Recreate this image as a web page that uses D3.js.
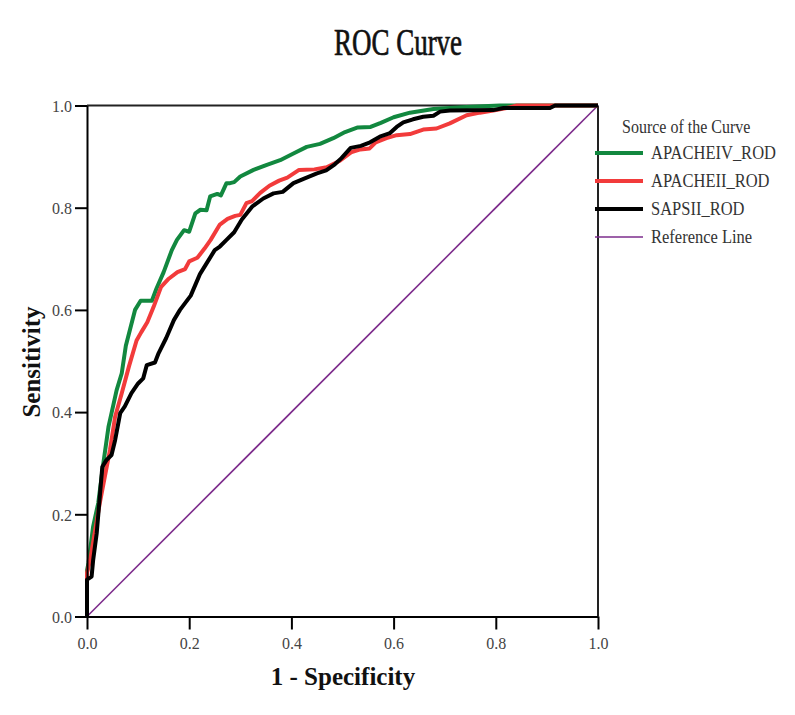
<!DOCTYPE html>
<html lang="en">
<head>
  <meta charset="UTF-8">
  <title>ROC Curve</title>
  <script src="https://d3js.org/d3.v7.min.js"></script>
  <style>
    body { margin: 0; background: #fff; }
    text { font-family: "Liberation Serif", "Times New Roman", serif; }
    .axis text { font-size: 16px; fill: #444; }
    .axis line, .axis path { stroke: #000; stroke-width: 2px; }
  </style>
</head>
<body>
  <svg width="795" height="715"></svg>
  <script>
  const margin = { top: 105.5, left: 87 };
  const width = 511;
  const height = 511;

  // APACHEIV_ROD
  const apache4X = [0, 0, 0.003, 0.012, 0.022, 0.032, 0.042, 0.048, 0.058, 0.068, 0.076, 0.094, 0.105, 0.127, 0.136, 0.15, 0.166, 0.176, 0.19, 0.2, 0.212, 0.222, 0.234, 0.241, 0.255, 0.262, 0.273, 0.28, 0.288, 0.30, 0.326, 0.352, 0.378, 0.404, 0.43, 0.456, 0.482, 0.505, 0.53, 0.555, 0.575, 0.60, 0.632, 0.678, 0.743, 0.808, 0.9, 1.0];
  const apache4Y = [0, 0.09, 0.105, 0.176, 0.222, 0.30, 0.371, 0.398, 0.443, 0.476, 0.53, 0.60, 0.618, 0.618, 0.642, 0.674, 0.717, 0.737, 0.756, 0.753, 0.789, 0.796, 0.795, 0.822, 0.827, 0.824, 0.848, 0.848, 0.85, 0.861, 0.874, 0.884, 0.893, 0.906, 0.919, 0.925, 0.936, 0.948, 0.957, 0.958, 0.966, 0.977, 0.986, 0.993, 0.997, 1.0, 1.0, 1.0];

  // APACHEII_ROD
  const apache2X = [0, 0, 0.006, 0.016, 0.025, 0.035, 0.045, 0.055, 0.068, 0.082, 0.097, 0.106, 0.118, 0.13, 0.145, 0.16, 0.177, 0.192, 0.2, 0.216, 0.23, 0.242, 0.26, 0.275, 0.29, 0.30, 0.312, 0.323, 0.339, 0.357, 0.376, 0.392, 0.415, 0.445, 0.469, 0.495, 0.518, 0.535, 0.553, 0.565, 0.586, 0.606, 0.632, 0.658, 0.684, 0.71, 0.743, 0.769, 0.795, 0.821, 0.841, 1.0];
  const apache2Y = [0, 0.085, 0.11, 0.169, 0.222, 0.274, 0.326, 0.391, 0.437, 0.489, 0.54, 0.556, 0.576, 0.605, 0.645, 0.661, 0.674, 0.68, 0.695, 0.702, 0.72, 0.737, 0.767, 0.778, 0.784, 0.786, 0.809, 0.813, 0.829, 0.843, 0.853, 0.859, 0.874, 0.875, 0.879, 0.892, 0.909, 0.914, 0.916, 0.928, 0.936, 0.942, 0.944, 0.953, 0.955, 0.965, 0.981, 0.986, 0.99, 0.995, 1.0, 1.0];

  // SAPSII_ROD
  const sapsX = [0, 0, 0.009, 0.012, 0.019, 0.025, 0.03, 0.038, 0.048, 0.055, 0.065, 0.074, 0.087, 0.1, 0.11, 0.117, 0.133, 0.14, 0.155, 0.17, 0.182, 0.203, 0.221, 0.234, 0.25, 0.26, 0.273, 0.288, 0.303, 0.323, 0.345, 0.365, 0.383, 0.404, 0.425, 0.45, 0.468, 0.485, 0.498, 0.516, 0.536, 0.554, 0.573, 0.593, 0.606, 0.619, 0.638, 0.658, 0.678, 0.691, 0.71, 0.795, 0.815, 0.906, 0.916, 1.0];
  const sapsY = [0, 0.072, 0.078, 0.11, 0.163, 0.234, 0.293, 0.306, 0.316, 0.345, 0.398, 0.411, 0.437, 0.456, 0.466, 0.492, 0.497, 0.515, 0.545, 0.58, 0.60, 0.628, 0.67, 0.691, 0.717, 0.724, 0.737, 0.752, 0.777, 0.802, 0.818, 0.828, 0.831, 0.848, 0.857, 0.867, 0.873, 0.885, 0.897, 0.917, 0.921, 0.928, 0.939, 0.946, 0.958, 0.967, 0.973, 0.978, 0.98, 0.988, 0.99, 0.991, 0.995, 0.995, 1.0, 1.0];

  const refX = [0, 1];
  const refY = [0, 1];

  const tickValues = [0, 0.2, 0.4, 0.6, 0.8, 1.0];

  const series = [
    { name: "APACHEIV_ROD", xs: apache4X, ys: apache4Y, color: "#12883f", w: 4 },
    { name: "APACHEII_ROD", xs: apache2X, ys: apache2Y, color: "#f23b3b", w: 4 },
    { name: "SAPSII_ROD", xs: sapsX, ys: sapsY, color: "#000000", w: 4 },
    { name: "Reference Line", xs: refX, ys: refY, color: "#7d2c8c", w: 1.6 }
  ];

  const root = d3.select("svg");
  const svg = root.append("g")
    .attr("transform", `translate(${margin.left},${margin.top})`);

  const x = d3.scaleLinear().domain([0, 1]).range([0, width]);
  const y = d3.scaleLinear().domain([0, 1]).range([height, 0]);

  // frame top + right
  svg.append("line")
    .attr("x1", 0).attr("x2", width).attr("y1", 0).attr("y2", 0)
    .attr("stroke", "#222").attr("stroke-width", 2);
  svg.append("line")
    .attr("x1", width).attr("x2", width).attr("y1", 0).attr("y2", height)
    .attr("stroke", "#222").attr("stroke-width", 2);

  const line = d3.line()
    .x((d) => x(d[0]))
    .y((d) => y(d[1]));

  // reference line first, curves on top in legend order
  const drawOrder = [series[3], series[0], series[1], series[2]];
  drawOrder.forEach((s) => {
    svg.append("path")
      .datum(s.xs.map((v, i) => [v, s.ys[i]]))
      .attr("fill", "none")
      .attr("stroke", s.color)
      .attr("stroke-width", s.w)
      .attr("stroke-linejoin", "round")
      .attr("d", line);
  });

  svg.append("g")
    .attr("class", "axis")
    .attr("transform", `translate(0,${height})`)
    .call(d3.axisBottom(x).tickValues(tickValues).tickFormat(d3.format(".1f"))
      .tickSize(13).tickSizeOuter(0).tickPadding(8));

  svg.append("g")
    .attr("class", "axis")
    .call(d3.axisLeft(y).tickValues(tickValues).tickFormat(d3.format(".1f"))
      .tickSize(12).tickSizeOuter(0).tickPadding(3))
    .selectAll("text").attr("dy", "0.36em");

  // title
  root.append("text")
    .attr("transform", "translate(398,55) scale(1,1.38)")
    .attr("text-anchor", "middle")
    .attr("font-size", "27px")
    .attr("fill", "#111")
    .attr("stroke", "#111")
    .attr("stroke-width", 0.5)
    .text("ROC Curve");

  // axis titles
  root.append("text")
    .attr("x", 343).attr("y", 685)
    .attr("text-anchor", "middle")
    .attr("font-size", "25px")
    .attr("font-weight", "bold")
    .attr("fill", "#111")
    .text("1 - Specificity");

  root.append("text")
    .attr("transform", "translate(40,362) rotate(-90)")
    .attr("text-anchor", "middle")
    .attr("font-size", "25px")
    .attr("font-weight", "bold")
    .attr("fill", "#111")
    .text("Sensitivity");

  // legend
  const legend = root.append("g");
  legend.append("text")
    .attr("transform", "translate(622,133) scale(1,1.2)")
    .attr("font-size", "16px")
    .attr("fill", "#333")
    .text("Source of the Curve");

  const ly = d3.scalePoint().domain(series.map((s) => s.name)).range([153, 237]);
  series.forEach((s) => {
    legend.append("line")
      .attr("x1", 595).attr("x2", 643)
      .attr("y1", ly(s.name)).attr("y2", ly(s.name))
      .attr("stroke", s.color)
      .attr("stroke-width", s.w);
    legend.append("text")
      .attr("transform", `translate(651,${ly(s.name) + 6}) scale(1,1.2)`)
      .attr("font-size", "16.5px")
      .attr("fill", "#333")
      .text(s.name);
  });
  </script>
</body>
</html>
